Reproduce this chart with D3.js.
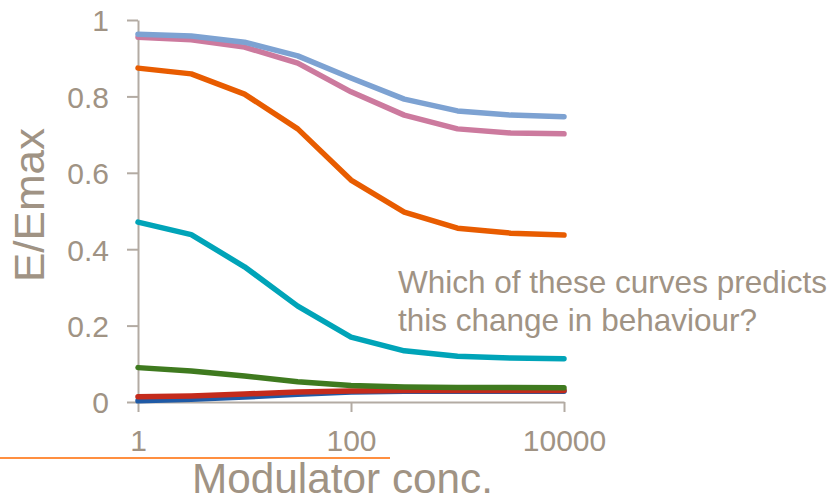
<!DOCTYPE html>
<html>
<head>
<meta charset="utf-8">
<script src="https://cdn.jsdelivr.net/npm/d3@7"></script>
<style>
  html, body { margin: 0; padding: 0; background: #fff; }
  svg { display: block; font-family: "Liberation Sans", Arimo, Arial, sans-serif; }
</style>
</head>
<body>
<svg id="chart" width="833" height="501"></svg>
<script>
// ---- data ----
const concentrations = [1, 3.162, 10, 31.62, 100, 316.2, 1000, 3162, 10000];
const xTickValues = [1, 100, 10000];
const yTickValues = [0, 0.2, 0.4, 0.6, 0.8, 1];

const seriesNames = ["darkBlue", "red", "green", "teal", "orange", "pink", "lightBlue"];
const darkBlueValues  = [0.003, 0.007, 0.013, 0.020, 0.026, 0.028, 0.028, 0.028, 0.028];
const redValues       = [0.014, 0.016, 0.021, 0.026, 0.029, 0.030, 0.030, 0.030, 0.030];
const greenValues     = [0.090, 0.081, 0.068, 0.053, 0.043, 0.039, 0.038, 0.038, 0.037];
const tealValues      = [0.471, 0.438, 0.354, 0.251, 0.170, 0.134, 0.120, 0.115, 0.113];
const orangeValues    = [0.874, 0.859, 0.806, 0.715, 0.581, 0.497, 0.455, 0.442, 0.437];
const pinkValues      = [0.955, 0.948, 0.929, 0.887, 0.812, 0.751, 0.715, 0.704, 0.702];
const lightBlueValues = [0.963, 0.958, 0.942, 0.906, 0.848, 0.793, 0.762, 0.751, 0.747];

const seriesValues = [darkBlueValues, redValues, greenValues, tealValues, orangeValues, pinkValues, lightBlueValues];
const seriesColors = ["#1f5aa6", "#c42b1c", "#3f7a1f", "#00a4b8", "#e85c00", "#cc7a9e", "#7da2d2"];

const yTitle = "E/Emax";
const xTitle = "Modulator conc.";
const noteLines = ["Which of these curves predicts", "this change in behaviour?"];

// ---- layout ----
const textColor = "#a09384";
const axisColor = "#b3aba3";
const svg = d3.select("#chart");

const x = d3.scaleLog().domain([1, 10000]).range([138, 564]);
const y = d3.scaleLinear().domain([0, 1]).range([402, 20]);

// y axis
const yAxis = svg.append("g")
  .attr("transform", "translate(138,0)")
  .call(d3.axisLeft(y).tickValues(yTickValues).tickFormat(d3.format("~g"))
        .tickSize(11).tickSizeOuter(0).tickPadding(18));
// x axis
const xAxis = svg.append("g")
  .attr("transform", "translate(0,402)")
  .call(d3.axisBottom(x).tickValues(xTickValues).tickFormat(d3.format("d"))
        .tickSize(10).tickSizeOuter(0).tickPadding(18));

[yAxis, xAxis].forEach(g => {
  g.selectAll("path.domain").attr("stroke", axisColor).attr("stroke-width", 2);
  g.selectAll(".tick line").attr("stroke", axisColor).attr("stroke-width", 2);
  g.selectAll(".tick text").attr("fill", textColor)
    .style("font-size", "30px").style("font-family", '"Liberation Sans", Arimo, Arial, sans-serif');
});
yAxis.selectAll(".tick text").attr("dy", "0.36em");

// lines
const line = d3.line()
  .x((d, i) => x(concentrations[i]))
  .y(d => y(d));

svg.append("g").selectAll("path")
  .data(seriesValues)
  .join("path")
  .attr("d", d => line(d))
  .attr("fill", "none")
  .attr("stroke", (d, i) => seriesColors[i])
  .attr("stroke-width", 5.5)
  .attr("stroke-linecap", "round")
  .attr("stroke-linejoin", "round");

// y title
svg.append("text")
  .attr("transform", "translate(44,205) rotate(-90)")
  .attr("text-anchor", "middle")
  .attr("fill", textColor)
  .style("font-size", "42px")
  .attr("textLength", 154)
  .attr("lengthAdjust", "spacingAndGlyphs")
  .text(yTitle);

// x title
svg.append("text")
  .attr("x", 342.5)
  .attr("y", 493)
  .attr("text-anchor", "middle")
  .attr("fill", textColor)
  .style("font-size", "42px")
  .attr("textLength", 301)
  .attr("lengthAdjust", "spacingAndGlyphs")
  .text(xTitle);

// decorative orange rule
svg.append("line")
  .attr("x1", 0).attr("x2", 390)
  .attr("y1", 458).attr("y2", 458)
  .attr("stroke", "#ff6a00").attr("stroke-width", 1.5);

// annotation
svg.append("g").selectAll("text")
  .data(noteLines)
  .join("text")
  .attr("x", 398)
  .attr("y", (d, i) => 293 + i * 37.5)
  .attr("fill", textColor)
  .style("font-size", "31.5px")
  .text(d => d);
</script>
</body>
</html>
